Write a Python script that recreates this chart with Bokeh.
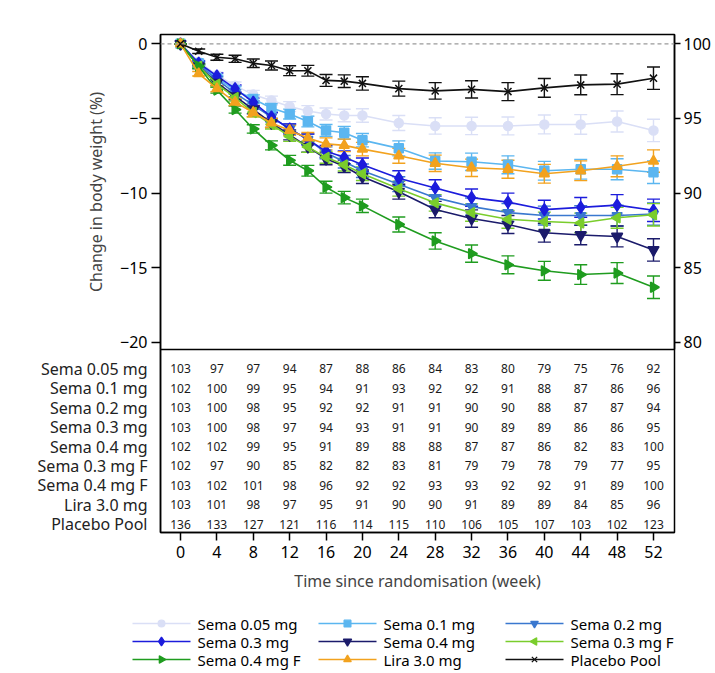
import numpy as np
from bokeh.plotting import figure
from bokeh.models import (ColumnDataSource, Range1d, LinearAxis, FixedTicker, Span,
                          Whisker, TeeHead)
from bokeh.layouts import column
from bokeh.core.properties import value
from bokeh.embed import file_html
from bokeh.resources import INLINE

FONT = "Noto Sans"

# Visit weeks for the mean-change curves
weeks = [0, 2, 4, 6, 8, 10, 12, 14, 16, 18, 20, 24, 28, 32, 36, 40, 44, 48, 52]

# Treatment arms (legend and table order)
arms = ["Sema 0.05 mg", "Sema 0.1 mg", "Sema 0.2 mg", "Sema 0.3 mg", "Sema 0.4 mg",
        "Sema 0.3 mg F", "Sema 0.4 mg F", "Lira 3.0 mg", "Placebo Pool"]

# Mean change in body weight (%) per visit
sema_005 = [0, -1.2, -2.1, -2.8, -3.4, -3.8, -4.2, -4.5, -4.7, -4.8, -4.8, -5.3, -5.5, -5.5, -5.5, -5.4, -5.4, -5.2, -5.8]
sema_01 = [0, -1.3, -2.3, -3.1, -3.7, -4.3, -4.7, -5.2, -5.8, -5.95, -6.45, -7.0, -7.85, -7.9, -8.1, -8.5, -8.4, -8.4, -8.6]
sema_02 = [0, -1.4, -2.4, -3.3, -4.1, -4.9, -5.7, -6.4, -7.3, -7.9, -8.5, -9.4, -10.3, -10.9, -11.3, -11.5, -11.5, -11.5, -11.4]
sema_03 = [0, -1.3, -2.15, -3.0, -3.9, -4.9, -5.7, -6.4, -7.2, -7.6, -8.1, -9.0, -9.65, -10.3, -10.6, -11.1, -10.95, -10.8, -11.15]
sema_04 = [0, -1.5, -2.6, -3.5, -4.4, -5.3, -6.1, -6.9, -7.7, -8.2, -8.9, -9.9, -11.1, -11.7, -12.1, -12.65, -12.8, -12.9, -13.8]
sema_03f = [0, -1.5, -2.7, -3.6, -4.6, -5.4, -6.2, -6.9, -7.6, -8.1, -8.7, -9.7, -10.65, -11.3, -11.75, -11.9, -12.0, -11.65, -11.45]
sema_04f = [0, -1.5, -3.1, -4.4, -5.7, -6.8, -7.8, -8.5, -9.6, -10.3, -10.85, -12.1, -13.2, -14.05, -14.8, -15.2, -15.45, -15.35, -16.3]
lira_30 = [0, -2.0, -3.0, -3.9, -4.6, -5.3, -5.8, -6.3, -6.7, -6.8, -7.05, -7.5, -8.0, -8.3, -8.4, -8.7, -8.5, -8.2, -7.85]
placebo = [0, -0.5, -0.9, -1.0, -1.3, -1.45, -1.8, -1.8, -2.45, -2.5, -2.65, -3.0, -3.15, -3.05, -3.2, -2.95, -2.75, -2.7, -2.3]

# Standard error half-widths (%) per visit
se_visit = [0, 0.15, 0.2, 0.24, 0.28, 0.3, 0.33, 0.36, 0.4, 0.42, 0.45, 0.5, 0.55, 0.58, 0.6, 0.63, 0.66, 0.7, 0.75]

# Number of subjects at risk
table_weeks = [0, 4, 8, 12, 16, 20, 24, 28, 32, 36, 40, 44, 48, 52]
n_sema_005 = [103, 97, 97, 94, 87, 88, 86, 84, 83, 80, 79, 75, 76, 92]
n_sema_01 = [102, 100, 99, 95, 94, 91, 93, 92, 92, 91, 88, 87, 86, 96]
n_sema_02 = [103, 100, 98, 95, 92, 92, 91, 91, 90, 90, 88, 87, 87, 94]
n_sema_03 = [103, 100, 98, 97, 94, 93, 91, 91, 90, 89, 89, 86, 86, 95]
n_sema_04 = [102, 102, 99, 95, 91, 89, 88, 88, 87, 87, 86, 82, 83, 100]
n_sema_03f = [102, 97, 90, 85, 82, 82, 83, 81, 79, 79, 78, 79, 77, 95]
n_sema_04f = [103, 102, 101, 98, 96, 92, 92, 93, 93, 92, 92, 91, 89, 100]
n_lira_30 = [103, 101, 98, 97, 95, 91, 90, 90, 91, 89, 89, 84, 85, 96]
n_placebo = [136, 133, 127, 121, 116, 114, 115, 110, 106, 105, 107, 103, 102, 123]

series = [sema_005, sema_01, sema_02, sema_03, sema_04, sema_03f, sema_04f, lira_30, placebo]
counts = [n_sema_005, n_sema_01, n_sema_02, n_sema_03, n_sema_04, n_sema_03f, n_sema_04f, n_lira_30, n_placebo]

colors = ["#DADFF6", "#5BB6F0", "#3A78CF", "#1C1CDC", "#1B1B6B", "#7ACD2C", "#1F9C1F", "#F2A21E", "#111111"]
markers = ["circle", "square", "inverted_triangle", "diamond", "inverted_triangle",
           "triangle", "triangle", "triangle", "x"]
angles = [0, 0, 0, 0, 0, np.pi / 2, -np.pi / 2, 0, 0]
sizes = [9, 9, 10, 12, 11, 10, 10, 10, 10]

X_RANGE = (-2.2, 54.31)
FRAME_W = 514
BORDER_L, BORDER_R = 160, 41
OVERLAP = 10  # spare room under the curve panel, covered by the table panel


def style_axis(ax, tick_out, standoff):
    ax.major_tick_out = tick_out
    ax.major_tick_in = 0
    ax.minor_tick_line_color = None
    ax.major_label_standoff = standoff
    ax.major_label_text_font = FONT
    ax.major_label_text_font_size = "16px"
    ax.major_label_text_color = "black"
    ax.axis_line_width = 1.5
    ax.major_tick_line_width = 1.5


def base_figure(**kw):
    f = figure(frame_width=FRAME_W, min_border_left=BORDER_L, min_border_right=BORDER_R,
               x_range=Range1d(*X_RANGE), output_backend="svg", toolbar_location=None,
               background_fill_color="white", border_fill_color="white", **kw)
    f.xgrid.visible = False
    f.ygrid.visible = False
    f.outline_line_color = "black"
    f.outline_line_width = 1.5
    f.outline_line_alpha = 1.0
    return f


# ---- Curves panel -------------------------------------------------------
y_top, y_bottom = 0.625, -20.47
p = base_figure(frame_height=315, min_border_top=34, min_border_bottom=OVERLAP,
                y_range=Range1d(y_bottom, y_top), x_axis_location=None)

ly = p.yaxis[0]
ly.ticker = FixedTicker(ticks=[-20, -15, -10, -5, 0])
style_axis(ly, 9, 4)
ly.axis_label = "Change in body weight (%)"
ly.axis_label_text_font = FONT
ly.axis_label_text_font_size = "16px"
ly.axis_label_text_font_style = "normal"
ly.axis_label_standoff = 10

p.extra_y_ranges = {"rel": Range1d(100 + y_bottom, 100 + y_top)}
ry = LinearAxis(y_range_name="rel", ticker=FixedTicker(ticks=[80, 85, 90, 95, 100]))
style_axis(ry, 6, 3)
p.add_layout(ry, "right")

p.add_layout(Span(location=0, dimension="width", line_color="#9A9A9A",
                  line_dash="4 3", line_width=1.2))

for name, vals, color, marker, ang, size in zip(arms, series, colors, markers, angles, sizes):
    lo = [v - s for v, s in zip(vals, se_visit)]
    hi = [v + s for v, s in zip(vals, se_visit)]
    src = ColumnDataSource(dict(x=weeks, y=vals, lo=lo, hi=hi))
    p.add_layout(Whisker(source=src, base="x", lower="lo", upper="hi",
                         line_color=color, line_width=1.4,
                         upper_head=TeeHead(size=13, line_color=color, line_width=1.4),
                         lower_head=TeeHead(size=13, line_color=color, line_width=1.4)))
    p.line("x", "y", source=src, line_color=color, line_width=1.6)
    p.scatter("x", "y", source=src, marker=marker, size=size, angle=ang,
              fill_color=color, line_color=color, line_width=1.5)

# ---- At-risk table ------------------------------------------------------
rows = list(range(len(arms)))
t = base_figure(frame_height=183, min_border_top=0, min_border_bottom=62,
                y_range=Range1d(8.43, -1.0))
t.margin = (-OVERLAP, 0, 0, 0)
tyax = t.yaxis[0]
tyax.ticker = FixedTicker(ticks=rows)
tyax.major_label_overrides = {r: name for r, name in zip(rows, arms)}
style_axis(tyax, 0, 13)
tyax.major_label_text_color = "#222222"
tyax.major_tick_line_color = None

tx = t.xaxis[0]
tx.ticker = FixedTicker(ticks=table_weeks)
style_axis(tx, 8, 5)
tx.axis_label = "Time since randomisation (week)"
tx.axis_label_text_font = FONT
tx.axis_label_text_font_size = "16px"
tx.axis_label_text_font_style = "normal"
tx.axis_label_standoff = 9

cx, cy, ct = [], [], []
for r, row in zip(rows, counts):
    for w, n in zip(table_weeks, row):
        cx.append(w)
        cy.append(r)
        ct.append(str(n))
t.text(x=cx, y=cy, text=ct, text_align="center", text_baseline="middle",
       text_font=value(FONT), text_font_size="12px", text_color="#1A1A1A")

# ---- Legend strip (3 x 3 grid) -----------------------------------------
LEG_H = 79
lg = figure(width=715, height=LEG_H, x_range=Range1d(0, 715), y_range=Range1d(LEG_H, 0),
            output_backend="svg", toolbar_location=None, min_border=0,
            x_axis_location=None, y_axis_location=None, outline_line_color=None,
            background_fill_color="white", border_fill_color="white")
lg.xgrid.visible = False
lg.ygrid.visible = False

col_x0 = [132, 318, 505]
row_y0 = [29, 47, 65]
glyph_len = 58
for i, (name, color, marker, ang, size) in enumerate(zip(arms, colors, markers, angles, sizes)):
    gx = col_x0[i % 3]
    gy = row_y0[i // 3]
    lg.line([gx, gx + glyph_len], [gy, gy], line_color=color, line_width=1.6)
    lg.scatter([gx + glyph_len / 2], [gy], marker=marker, size=size * 0.75,
               angle=ang, fill_color=color, line_color=color, line_width=1.3)
    lg.text([gx + glyph_len + 7], [gy], text=[name], text_align="left",
            text_baseline="middle", text_font=value(FONT), text_font_size="15px",
            text_color="black")

layout = column(column(p, t, spacing=0), lg, spacing=0)
open("out.html", "w").write(file_html(layout, INLINE))
